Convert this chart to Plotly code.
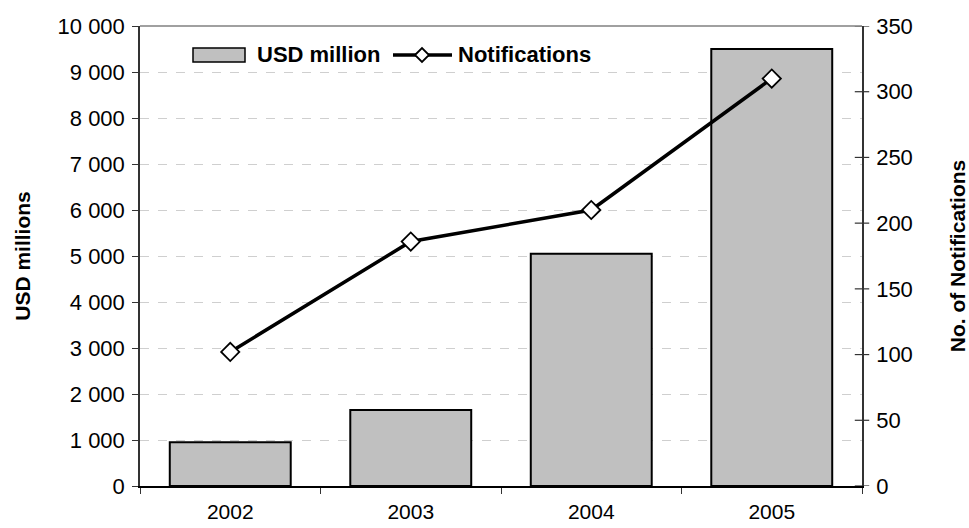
import plotly.graph_objects as go

# Annual values
years = ["2002", "2003", "2004", "2005"]
usd_million = [950, 1650, 5050, 9500]
notifications = [102, 186, 210, 310]

FONT = "Liberation Sans, Arial, sans-serif"
FS = 22

W, H = 969, 528
ML, MR, MT, MB = 140, 107, 26, 42
PW, PH = W - ML - MR, H - MT - MB


def px(x):
    return (x - ML) / PW


def py(y):
    return (H - MB - y) / PH


fig = go.Figure()

fig.add_trace(go.Bar(
    x=years, y=usd_million, name="USD million",
    marker=dict(color="#c0c0c0", line=dict(color="black", width=2)),
    yaxis="y",
))

fig.add_trace(go.Scatter(
    x=years, y=notifications, name="Notifications",
    mode="lines+markers",
    line=dict(color="black", width=3.5),
    marker=dict(symbol="diamond", size=14, color="white",
                line=dict(color="black", width=1.8)),
    yaxis="y2",
))

# right-axis tick marks that cross the axis line
right_ticks = list(range(0, 351, 50))
shapes = [
    dict(type="line", xref="paper", yref="y2", x0=0.99, x1=1.01,
         y0=v, y1=v, line=dict(color="#333333", width=1.2))
    for v in right_ticks
]
# grey frame line along the top of the plot area
shapes.append(dict(type="line", xref="paper", yref="paper", x0=0, x1=1,
                   y0=1, y1=1, line=dict(color="#808080", width=1.5)))

# legend key: wide bar swatch, then line with diamond
ly = 55
shapes.append(dict(type="rect", xref="paper", yref="paper",
                   x0=px(193), x1=px(245), y0=py(62), y1=py(48),
                   fillcolor="#c0c0c0", line=dict(color="black", width=1.5)))
shapes.append(dict(type="line", xref="paper", yref="paper",
                   x0=px(393), x1=px(452), y0=py(ly), y1=py(ly),
                   line=dict(color="black", width=3.5)))
dc, dr = 422, 7
diamond = (f"M {px(dc - dr)},{py(ly)} L {px(dc)},{py(ly - dr)} "
           f"L {px(dc + dr)},{py(ly)} L {px(dc)},{py(ly + dr)} Z")
shapes.append(dict(type="path", xref="paper", yref="paper", path=diamond,
                   fillcolor="white", line=dict(color="black", width=1.8)))

annotations = [
    dict(text="<b>USD million</b>", xref="paper", yref="paper",
         x=px(255), y=py(ly), xanchor="left", yanchor="middle",
         showarrow=False, font=dict(family=FONT, size=FS, color="black")),
    dict(text="<b>Notifications</b>", xref="paper", yref="paper",
         x=px(456), y=py(ly), xanchor="left", yanchor="middle",
         showarrow=False, font=dict(family=FONT, size=FS, color="black")),
]

fig.update_layout(
    width=W, height=H,
    margin=dict(l=ML, r=MR, t=MT, b=MB),
    paper_bgcolor="white", plot_bgcolor="white",
    font=dict(family=FONT, size=FS, color="black"),
    separators=". ",
    bargap=0.33,
    showlegend=False,
    xaxis=dict(
        type="category", showgrid=False, automargin=False,
        showline=True, linecolor="black", linewidth=2,
        ticks="outside", tickson="boundaries", ticklen=6,
        tickcolor="#333333", tickwidth=1.2,
        ticklabelstandoff=6,
        tickfont=dict(size=21),
    ),
    yaxis=dict(
        range=[0, 10000], dtick=1000, tickformat=",d", automargin=False,
        showline=True, linecolor="#333333", linewidth=1.5,
        ticks="outside", ticklen=6, tickcolor="#333333", tickwidth=1.2,
        showgrid=True, gridcolor="#cfcfcf", griddash="dash", gridwidth=1,
        zeroline=False, tickfont=dict(size=FS), ticklabelstandoff=3,
        title=dict(text="<b>USD millions</b>", standoff=21,
                   font=dict(size=21)),
    ),
    yaxis2=dict(
        range=[0, 350], dtick=50, overlaying="y", side="right",
        automargin=False,
        showline=True, linecolor="#333333", linewidth=1.5,
        ticks="", showgrid=False, zeroline=False,
        ticklabelstandoff=8, tickfont=dict(size=FS),
        title=dict(text="<b>No. of Notifications</b>", standoff=44,
                   font=dict(size=21)),
    ),
    shapes=shapes,
    annotations=annotations,
)

fig.write_html("out.html")
